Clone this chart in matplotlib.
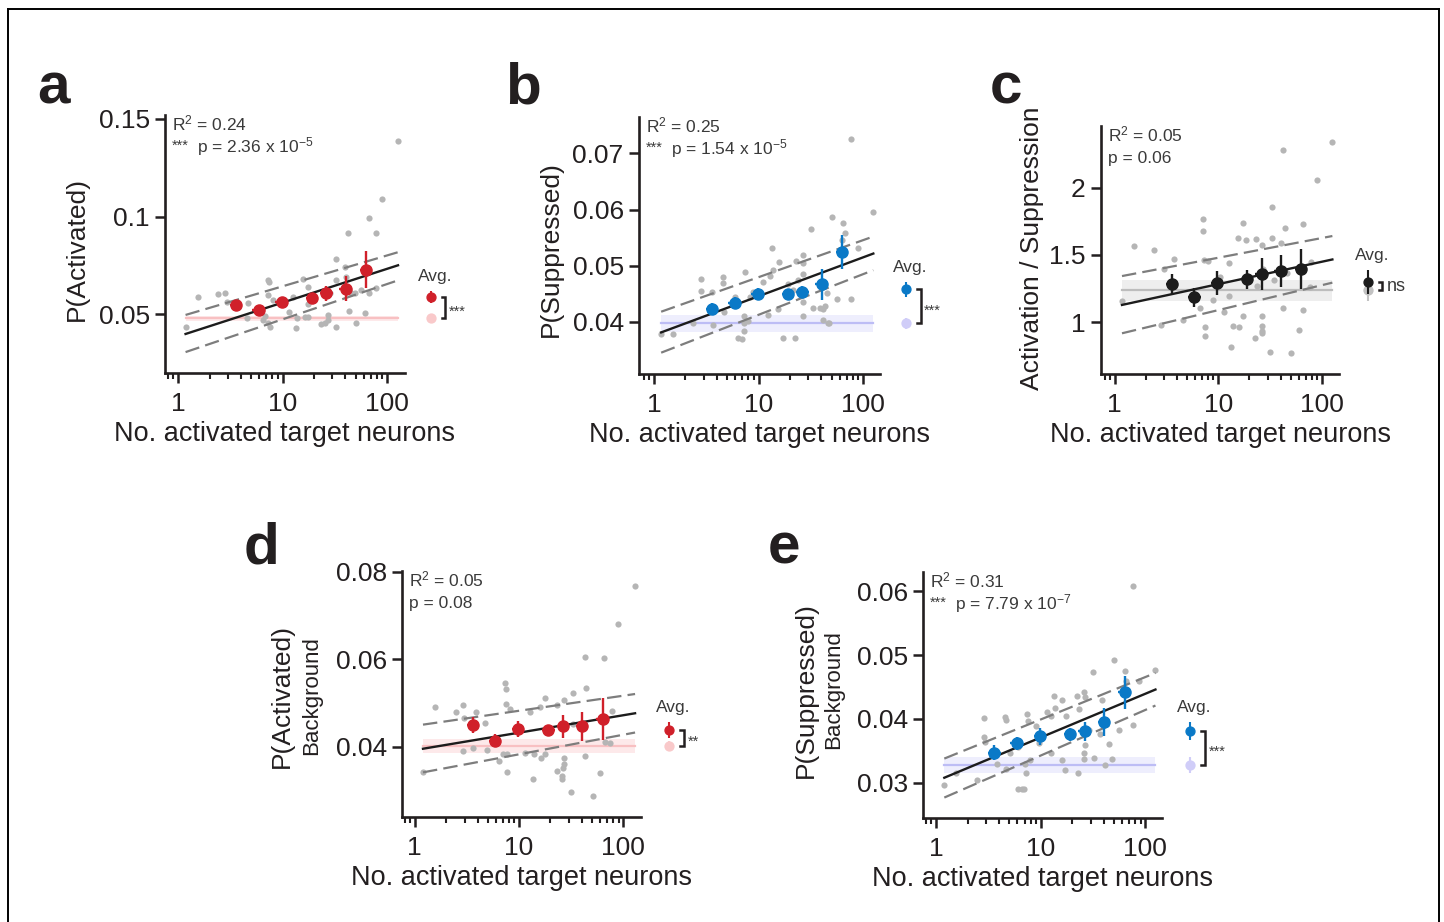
import matplotlib
matplotlib.use("Agg")
import matplotlib.pyplot as plt
import numpy as np
from matplotlib.lines import Line2D
from matplotlib.ticker import FixedLocator, LogLocator, NullFormatter

plt.rcParams["font.family"] = ["Liberation Sans", "DejaVu Sans"]
plt.rcParams["mathtext.default"] = "regular"

W, H = 1444, 922

INK = "#231f20"
STAT = "#3a3a3a"
DOT = "#b5b5b5"
DASH = "#7d7d7d"

RED, RED_PALE, RED_LINE, RED_BAND = "#d0202a", "#f9c9ca", "#f8c0c2", "#fde9ea"
BLUE, BLUE_PALE, BLUE_LINE, BLUE_BAND = "#0a79c7", "#d0cdf8", "#bdbdf5", "#eeeefd"
BLK, BLK_PALE, BLK_LINE, BLK_BAND = "#1c1c1c", "#c2c2c2", "#bdbdbd", "#eeeeee"

# bin centres (no. activated target neurons) shared by all panels
bin_x = [3.6, 5.9, 9.8, 19.1, 26.3, 40.1, 63.2]
bin_xerr_log = 0.06

# ---- a: P(Activated) ----
a_x = [1.18, 1.55, 2.41, 2.84, 2.97, 4.68, 4.61, 6.51, 6.75, 7.27, 7.43, 7.27, 7.53,
       7.27, 8.11, 12.6, 11.5, 13.6, 13.9, 15.7, 16.3, 17.5, 17.5, 17.5, 23.5, 25.3,
       27.3, 27.3, 28.3, 32.7, 32.3, 32.7, 39.3, 40.2, 42.4, 43.0, 44.9, 49.1, 50.9,
       56.8, 61.1, 66.8, 67.0, 77.9, 77.9, 89.6, 127.4]
a_y = [0.0437, 0.0590, 0.0604, 0.0610, 0.0564, 0.0559, 0.0480, 0.0471, 0.0492, 0.0674,
       0.0664, 0.0598, 0.0437, 0.0458, 0.0573, 0.0590, 0.0510, 0.0432, 0.0480, 0.0683,
       0.0488, 0.0488, 0.0640, 0.0552, 0.0449, 0.0454, 0.0471, 0.0497, 0.0607, 0.0784,
       0.0437, 0.0674, 0.0742, 0.0691, 0.0916, 0.0519, 0.0607, 0.0607, 0.0454, 0.0624,
       0.0505, 0.0992, 0.0607, 0.0637, 0.0916, 0.1089, 0.1389]
a_mean = [0.0547, 0.0522, 0.0564, 0.0586, 0.0607, 0.0632, 0.0728]
a_sem = [0.0012, 0.0013, 0.0015, 0.0016, 0.0037, 0.0065, 0.0095]
a_fit = (0.03873, 0.01728)          # intercept, slope vs log10(n)
a_ci_lo = (0.0307, 0.0674)
a_ci_hi = (0.0497, 0.0818)
a_ctrl = (0.0480, 0.0012)
a_avg = (0.0590, 0.0030)
a_avg_ctrl = (0.0480, 0.0008)

# ---- b: P(Suppressed) ----
b_x = [1.17, 1.53, 2.38, 2.82, 2.82, 3.56, 3.64, 4.61, 4.61, 4.67, 5.96, 5.96, 6.41,
       7.00, 7.32, 7.32, 7.32, 7.43, 8.00, 8.30, 8.93, 10.3, 11.1, 12.4, 12.8, 13.4,
       13.9, 15.5, 15.8, 17.3, 19.3, 21.5, 22.3, 22.8, 24.0, 26.5, 26.5, 26.5, 26.8,
       26.8, 31.8, 33.0, 38.8, 41.1, 41.6, 43.3, 44.9, 45.9, 47.6, 50.1, 56.0, 62.5,
       64.8, 67.3, 76.8, 76.8, 90.2, 125.6]
b_y = [0.0378, 0.0378, 0.0398, 0.0476, 0.0455, 0.0453, 0.0394, 0.0479, 0.0470, 0.0418,
       0.0433, 0.0445, 0.0372, 0.0369, 0.0410, 0.0397, 0.0384, 0.0488, 0.0401, 0.0445,
       0.0453, 0.0449, 0.0471, 0.0413, 0.0482, 0.0531, 0.0492, 0.0422, 0.0506, 0.0371,
       0.0468, 0.0456, 0.0371, 0.0508, 0.0474, 0.0410, 0.0436, 0.0486, 0.0505, 0.0519,
       0.0565, 0.0424, 0.0424, 0.0422, 0.0403, 0.0429, 0.0451, 0.0397, 0.0397, 0.0587,
       0.0440, 0.0546, 0.0576, 0.0559, 0.0440, 0.0725, 0.0532, 0.0595]
b_mean = [0.0423, 0.0434, 0.0449, 0.0449, 0.0453, 0.0467, 0.0525]
b_sem = [0.0010, 0.0010, 0.0011, 0.0010, 0.0011, 0.0028, 0.0030]
b_fit = (0.03764, 0.00692)
b_ci_lo = (0.0345, 0.0492)
b_ci_hi = (0.0418, 0.0552)
b_ctrl = (0.0397, 0.0015)
b_avg = (0.0458, 0.0013)
b_avg_ctrl = (0.0397, 0.0010)

# ---- c: Activation / Suppression ----
c_x = [1.18, 1.55, 2.41, 2.82, 2.97, 3.76, 4.63, 6.61, 7.22, 7.22, 7.35, 7.51, 7.51,
       8.07, 9.02, 10.5, 11.4, 12.6, 12.8, 13.3, 13.8, 16.0, 15.7, 17.3, 17.5, 18.6,
       22.7, 23.2, 23.6, 26.4, 26.4, 26.4, 26.4, 26.4, 27.4, 31.7, 32.9, 32.9, 34.7,
       40.5, 42.0, 42.5, 44.3, 46.6, 50.2, 60.4, 66.6, 66.6, 78.3, 77.1, 89.5, 126.7]
c_y = [1.159, 1.566, 1.538, 0.978, 1.397, 1.466, 1.015, 1.102, 1.764, 1.680, 1.461,
       0.960, 0.896, 1.452, 1.164, 1.332, 1.074, 1.442, 1.194, 0.816, 0.973, 0.960,
       1.623, 1.734, 1.045, 1.610, 0.883, 1.615, 1.268, 1.573, 1.045, 0.973, 0.935,
       0.916, 1.392, 0.774, 1.858, 1.623, 1.313, 1.590, 2.280, 1.102, 1.697, 1.362,
       0.772, 0.940, 1.727, 1.087, 1.449, 1.263, 2.057, 2.342]
c_mean = [1.280, 1.184, 1.293, 1.318, 1.357, 1.382, 1.392]
c_sem = [0.08, 0.07, 0.09, 0.07, 0.12, 0.12, 0.15]
c_fit = (1.1152, 0.1666)
c_ci_lo = (0.916, 1.293)
c_ci_hi = (1.342, 1.640)
c_ctrl = (1.238, 0.078)
c_avg = (1.300, 0.088)
c_avg_ctrl = (1.238, 0.080)

# ---- d: P(Activated) - background ----
d_x = [1.20, 1.56, 2.47, 2.87, 2.87, 2.98, 3.63, 3.85, 4.70, 4.88, 6.45, 7.05, 7.31,
       7.42, 7.49, 7.58, 7.58, 8.17, 11.4, 12.7, 13.5, 13.9, 15.8, 16.4, 17.7, 17.7,
       22.9, 22.9, 25.6, 25.9, 26.5, 26.9, 26.9, 26.9, 32.6, 31.8, 33.1, 42.9, 43.6,
       42.9, 50.8, 59.7, 65.2, 66.7, 74.5, 77.3, 89.5, 129.4]
d_y = [0.0342, 0.0491, 0.0481, 0.0496, 0.0390, 0.0466, 0.0398, 0.0479, 0.0455, 0.0394,
       0.0367, 0.0385, 0.0547, 0.0532, 0.0499, 0.0342, 0.0383, 0.0487, 0.0386, 0.0479,
       0.0326, 0.0385, 0.0491, 0.0375, 0.0513, 0.0383, 0.0495, 0.0345, 0.0333, 0.0326,
       0.0352, 0.0360, 0.0375, 0.0508, 0.0523, 0.0297, 0.0453, 0.0606, 0.0534, 0.0380,
       0.0288, 0.0341, 0.0603, 0.0411, 0.0409, 0.0483, 0.0682, 0.0767]
d_mean = [0.0451, 0.0414, 0.0441, 0.0439, 0.0447, 0.0447, 0.0464]
d_sem = [0.0018, 0.0015, 0.0018, 0.0012, 0.0027, 0.0034, 0.0047]
d_fit = (0.03928, 0.003986)
d_ci_lo = (0.0342, 0.0433)
d_ci_hi = (0.0451, 0.0521)
d_ctrl = (0.0402, 0.0016)
d_avg = (0.0439, 0.0019)
d_avg_ctrl = (0.0402, 0.0012)

# ---- e: P(Suppressed) - background ----
e_x = [1.20, 1.56, 2.47, 2.85, 2.89, 2.96, 3.56, 3.83, 4.60, 4.70, 4.66, 5.13, 6.03,
       6.03, 6.63, 6.97, 7.11, 7.30, 7.40, 7.50, 7.96, 9.09, 9.57, 11.5, 12.4, 12.6,
       13.3, 13.8, 15.8, 15.9, 17.2, 17.6, 22.2, 22.7, 23.0, 25.8, 25.8, 26.1, 26.7,
       26.7, 28.7, 31.6, 32.6, 37.2, 38.6, 41.5, 44.7, 48.0, 49.8, 55.6, 64.4, 65.8,
       76.2, 76.2, 86.3, 124.7]
e_y = [0.0296, 0.0315, 0.0304, 0.0402, 0.0372, 0.0364, 0.0346, 0.0330, 0.0403, 0.0398,
       0.0322, 0.0346, 0.0356, 0.0291, 0.0290, 0.0291, 0.0329, 0.0316, 0.0407, 0.0397,
       0.0335, 0.0389, 0.0362, 0.0411, 0.0347, 0.0404, 0.0436, 0.0417, 0.0335, 0.0429,
       0.0320, 0.0404, 0.0436, 0.0315, 0.0416, 0.0337, 0.0346, 0.0442, 0.0435, 0.0359,
       0.0382, 0.0474, 0.0339, 0.0377, 0.0430, 0.0328, 0.0361, 0.0338, 0.0493, 0.0382,
       0.0475, 0.0460, 0.0390, 0.0608, 0.0460, 0.0477]
e_mean = [0.0347, 0.0362, 0.0373, 0.0376, 0.0381, 0.0395, 0.0442]
e_sem = [0.0012, 0.0010, 0.0013, 0.0010, 0.0015, 0.0022, 0.0026]
e_fit = (0.03026, 0.006845)
e_ci_lo = (0.0277, 0.0421)
e_ci_hi = (0.0338, 0.0472)
e_ctrl = (0.0328, 0.0013)
e_avg = (0.0381, 0.0014)
e_avg_ctrl = (0.0328, 0.0012)

XLABEL = "No. activated target neurons"


def px_axes(fig, left, top, right, bottom):
    return fig.add_axes([left / W, 1 - bottom / H, (right - left) / W, (bottom - top) / H])


def px_text(fig, x, y, s, **kw):
    return fig.text(x / W, 1 - y / H, s, **kw)


def unclip(container):
    for artist in container.get_children():
        artist.set_clip_on(False)


def draw_panel(fig, box, xs, ys, mean, sem, fit, ci_lo, ci_hi, ctrl, avg, avg_ctrl,
               colors, xlim, ylim, yticks, yticklabels, r2, pval, stars, sig, avg_x):
    color, pale, ctrl_line, ctrl_band = colors
    ax = px_axes(fig, *box)
    ax.set_xscale("log")
    ax.set_xlim(*xlim)
    ax.set_ylim(*ylim)

    lx = np.log10([min(xs), max(xs)])
    xr = 10 ** lx

    # shuffled / control level
    ax.fill_between(xr, ctrl[0] - ctrl[1], ctrl[0] + ctrl[1], color=ctrl_band,
                    lw=0, zorder=1)
    ax.plot(xr, [ctrl[0], ctrl[0]], color=ctrl_line, lw=1.6, zorder=1.5)

    ax.scatter(xs, ys, s=20, color=DOT, linewidths=0, zorder=2)

    # regression and its confidence band
    ax.plot(xr, ci_lo, color=DASH, lw=1.6, dashes=(6.5, 2.8), zorder=3)
    ax.plot(xr, ci_hi, color=DASH, lw=1.6, dashes=(6.5, 2.8), zorder=3)
    ax.plot(xr, fit[0] + fit[1] * lx, color=BLK, lw=1.7, zorder=4)

    bx = np.array(bin_x)
    xerr = [bx - bx / 10 ** bin_xerr_log, bx * 10 ** bin_xerr_log - bx]
    ax.errorbar(bx, mean, yerr=sem, xerr=xerr, fmt="o", ms=8, color=color,
                elinewidth=1.7, capsize=0, zorder=5)

    # population averages beside the axes
    eb = ax.errorbar([avg_x], [avg_ctrl[0]], yerr=[avg_ctrl[1]], fmt="o", ms=6.4,
                     color=pale, elinewidth=1.5, capsize=0, zorder=6)
    unclip(eb)
    eb = ax.errorbar([avg_x], [avg[0]], yerr=[avg[1]], fmt="o", ms=6.4,
                     color=color, elinewidth=1.5, capsize=0, zorder=7)
    unclip(eb)

    b0, b1 = avg_x * 10 ** 0.105, avg_x * 10 ** 0.14
    ax.add_line(Line2D([b0, b1, b1, b0], [avg[0], avg[0], avg_ctrl[0], avg_ctrl[0]],
                       color=INK, lw=1.8, clip_on=False, solid_joinstyle="miter"))
    mid = 0.5 * (avg[0] + avg_ctrl[0])
    if sig == "ns":
        ax.annotate("ns", xy=(avg_x, mid), xytext=(19, -5), textcoords="offset pixels",
                    fontsize=13, color=STAT, va="baseline", annotation_clip=False)
    else:
        ax.annotate(sig, xy=(avg_x, mid), xytext=(18, -8), textcoords="offset pixels",
                    fontsize=10.5, color=STAT, va="baseline", annotation_clip=False)
    ax.annotate("Avg.", xy=(avg_x, avg[0] + avg[1]), xytext=(4, 10),
                textcoords="offset pixels", fontsize=12.5, color=STAT, ha="center",
                va="baseline", annotation_clip=False)

    # stats
    left, top = box[0], box[1]
    px_text(fig, left + 7, top + 15, "R$^2$ = " + r2, fontsize=12.5, color=STAT,
            va="baseline")
    if stars:
        px_text(fig, left + 7, top + 35, stars, fontsize=10.5, color=STAT, va="baseline")
        px_text(fig, left + 32, top + 37, pval, fontsize=12.5, color=STAT, va="baseline")
    else:
        px_text(fig, left + 7, top + 37, pval, fontsize=12.5, color=STAT, va="baseline")

    for side in ("top", "right"):
        ax.spines[side].set_visible(False)
    for side in ("left", "bottom"):
        ax.spines[side].set_linewidth(1.9)
        ax.spines[side].set_color(INK)

    ax.xaxis.set_major_locator(FixedLocator([1, 10, 100]))
    ax.xaxis.set_minor_locator(LogLocator(base=10, subs=np.arange(2, 10)))
    ax.xaxis.set_minor_formatter(NullFormatter())
    ax.set_xticklabels(["1", "10", "100"])
    ax.set_yticks(yticks)
    ax.set_yticklabels(yticklabels)
    ax.tick_params(which="major", length=7, width=1.8, color=INK, labelcolor=INK,
                   labelsize=19, pad=4)
    ax.tick_params(axis="x", which="major", pad=7)
    ax.tick_params(which="minor", length=4.5, width=1.5, color=INK)
    ax.tick_params(axis="y", which="minor", length=0)

    cx = 0.5 * (box[0] + box[2])
    px_text(fig, cx, box[3] + 61, XLABEL, fontsize=19.5, color=INK, ha="center",
            va="center")
    return ax


fig = plt.figure(figsize=(W / 100, H / 100), dpi=100)

draw_panel(fig, (165, 115, 405, 373), a_x, a_y, a_mean, a_sem, a_fit, a_ci_lo, a_ci_hi,
           a_ctrl, a_avg, a_avg_ctrl, (RED, RED_PALE, RED_LINE, RED_BAND),
           (0.75, 148.6), (0.020, 0.152), [0.05, 0.1, 0.15], ["0.05", "0.1", "0.15"],
           "0.24", "p = 2.36 x 10$^{-5}$", "***", "***", 262)
draw_panel(fig, (639, 117, 880, 374), b_x, b_y, b_mean, b_sem, b_fit, b_ci_lo, b_ci_hi,
           b_ctrl, b_avg, b_avg_ctrl, (BLUE, BLUE_PALE, BLUE_LINE, BLUE_BAND),
           (0.718, 145.5), (0.0307, 0.0765), [0.04, 0.05, 0.06, 0.07],
           ["0.04", "0.05", "0.06", "0.07"],
           "0.25", "p = 1.54 x 10$^{-5}$", "***", "***", 258)
draw_panel(fig, (1101, 126, 1339, 374), c_x, c_y, c_mean, c_sem, c_fit, c_ci_lo, c_ci_hi,
           c_ctrl, c_avg, c_avg_ctrl, (BLK, BLK_PALE, BLK_LINE, BLK_BAND),
           (0.74, 146.8), (0.613, 2.459), [1, 1.5, 2], ["1", "1.5", "2"],
           "0.05", "p = 0.06", "", "ns", 278)
draw_panel(fig, (402, 571, 641, 817), d_x, d_y, d_mean, d_sem, d_fit, d_ci_lo, d_ci_hi,
           d_ctrl, d_avg, d_avg_ctrl, (RED, RED_PALE, RED_LINE, RED_BAND),
           (0.755, 147.5), (0.024, 0.0802), [0.04, 0.06, 0.08], ["0.04", "0.06", "0.08"],
           "0.05", "p = 0.08", "", "**", 276)
draw_panel(fig, (923, 572, 1162, 818), e_x, e_y, e_mean, e_sem, e_fit, e_ci_lo, e_ci_hi,
           e_ctrl, e_avg, e_avg_ctrl, (BLUE, BLUE_PALE, BLUE_LINE, BLUE_BAND),
           (0.751, 144.0), (0.0245, 0.063), [0.03, 0.04, 0.05, 0.06],
           ["0.03", "0.04", "0.05", "0.06"],
           "0.31", "p = 7.79 x 10$^{-7}$", "***", "***", 269)

# y-axis titles
ylab = dict(fontsize=19, color=INK, rotation=90, ha="center", va="center")
px_text(fig, 77, 249, "P(Activated)", **ylab)
px_text(fig, 551, 249, "P(Suppressed)", **ylab)
px_text(fig, 1032, 248, "Activation / Suppression", **ylab)
px_text(fig, 282, 696, "P(Activated)", **ylab)
px_text(fig, 806, 690, "P(Suppressed)", **ylab)
sub = dict(fontsize=16, color=INK, rotation=90, ha="center", va="center")
px_text(fig, 312, 696, "Background", **sub)
px_text(fig, 834, 690, "Background", **sub)

# panel letters
let = dict(fontsize=42, fontweight="bold", color=INK, ha="center", va="baseline")
px_text(fig, 54, 104, "a", **let)
px_text(fig, 523, 104, "b", **let)
px_text(fig, 1006, 104, "c", **let)
px_text(fig, 262, 563, "d", **let)
px_text(fig, 784, 563, "e", **let)

# frame around the figure
frame = dict(color="black", lw=1.4, transform=fig.transFigure)
fig.add_artist(Line2D([7.5 / W, 7.5 / W], [0, 1 - 9.5 / H], **frame))
fig.add_artist(Line2D([1439 / W, 1439 / W], [0, 1 - 9.5 / H], **frame))
fig.add_artist(Line2D([7.5 / W, 1439 / W], [1 - 9.5 / H, 1 - 9.5 / H], **frame))

fig.savefig("out.png", dpi=100)
